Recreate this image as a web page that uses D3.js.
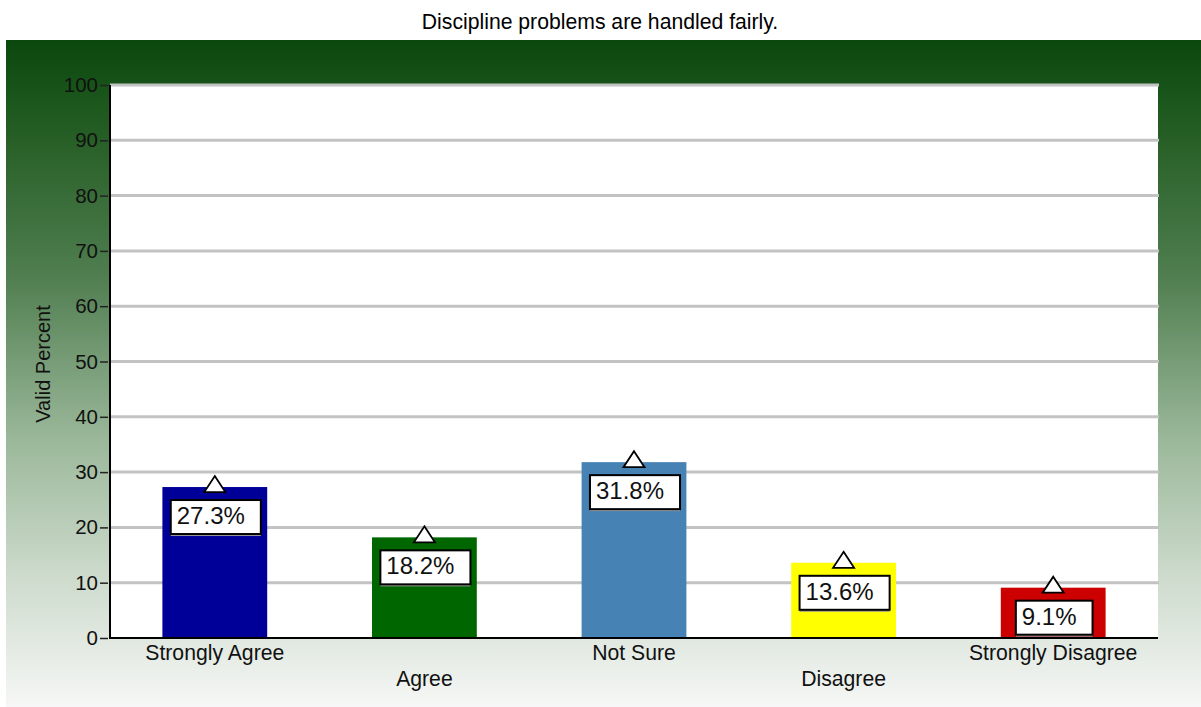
<!DOCTYPE html>
<html><head><meta charset="utf-8">
<script src="https://cdn.jsdelivr.net/npm/d3@7"></script>
<style>body{margin:0;background:#fff}svg{display:block;font-family:"Liberation Sans",Arial,sans-serif}</style>
</head><body>
<script>
const title = "Discipline problems are handled fairly.";
const categories = ["Strongly Agree","Agree","Not Sure","Disagree","Strongly Disagree"];
const values = [27.3, 18.2, 31.8, 13.6, 9.1];
const colors = ["#000099","#006600","#4682b4","#ffff00","#cc0000"];
const yTicks = [0,10,20,30,40,50,60,70,80,90,100];
const yLabel = "Valid Percent";

const W = 1201, H = 707;
const svg = d3.select("body").append("svg").attr("width", W).attr("height", H);
const defs = svg.append("defs");
const grad = defs.append("linearGradient").attr("id","bg").attr("x1",0).attr("y1",0).attr("x2",0).attr("y2",1);
[[0,"#0b480e"],[0.1,"#1d581d"],[0.35,"#4f7d4f"],[0.6,"#9bb89a"],[0.8,"#ccdacb"],[1,"#f6f7f6"]].forEach(s=>grad.append("stop").attr("offset",s[0]).attr("stop-color",s[1]));

svg.append("text").attr("x",600).attr("y",29).attr("text-anchor","middle").attr("font-size",21.2).attr("fill","#000").text(title);
svg.append("rect").attr("x",6).attr("y",40).attr("width",W-6).attr("height",H-40).attr("fill","url(#bg)");

const m = {l:110, r:1158, t:85, b:638};
const x = d3.scaleBand().domain(categories).range([m.l, m.r]).paddingInner(0.5).paddingOuter(0.25);
const y = d3.scaleLinear().domain([0,100]).range([m.b, m.t]);

svg.append("rect").attr("x",m.l).attr("y",m.t).attr("width",m.r-m.l).attr("height",m.b-m.t).attr("fill","#fff");

// gridlines
svg.append("g").selectAll("line").data(yTicks.filter(d=>d>0)).join("line")
  .attr("x1",m.l).attr("x2",m.r+1).attr("y1",d=>y(d)).attr("y2",d=>y(d))
  .attr("stroke","#c3c3c3").attr("stroke-width",3);

// bars
svg.append("g").selectAll("rect").data(values).join("rect")
  .attr("x",(d,i)=>x(categories[i])).attr("width",x.bandwidth())
  .attr("y",d=>y(d)).attr("height",d=>y(0)-y(d)).attr("fill",(d,i)=>colors[i]);

// axes
const yAxis = d3.axisLeft(y).tickValues(yTicks).tickSize(0).tickPadding(12);
const gy = svg.append("g").attr("transform",`translate(${m.l},0)`).call(yAxis);
gy.attr("font-size",null).attr("font-family",null);
gy.select(".domain").remove();
gy.selectAll(".tick").append("line").attr("x1",-10).attr("x2",-2).attr("stroke","#222").attr("stroke-width",1.5);
gy.selectAll("text").style("font-size","20.5px").attr("fill","#111").style("font-family","'Liberation Sans', Arial, sans-serif");
svg.append("line").attr("x1",m.l).attr("x2",m.l).attr("y1",m.t).attr("y2",m.b+1).attr("stroke","#000").attr("stroke-width",2);
svg.append("line").attr("x1",m.l).attr("x2",m.r).attr("y1",m.b).attr("y2",m.b).attr("stroke","#000").attr("stroke-width",2);

// category labels, alternating rows
svg.append("g").selectAll("text").data(categories).join("text")
  .attr("x",d=>x(d)+x.bandwidth()/2).attr("y",(d,i)=>i%2===0?660:686)
  .attr("text-anchor","middle").attr("font-size",21.2).attr("fill","#111").text(d=>d);

svg.append("text").attr("transform",`translate(50,364) rotate(-90)`).attr("text-anchor","middle")
  .attr("font-size",20).attr("fill","#111").text(yLabel);

// markers and labels
const g = svg.append("g").selectAll("g").data(values).join("g")
  .attr("transform",(d,i)=>`translate(${x(categories[i])+x.bandwidth()/2},${y(d)})`);
g.each(function(d){
  const sel = d3.select(this);
  const t = sel.append("text").attr("font-size",24).attr("fill","#111").attr("y",37).text(d.toFixed(1)+"%");
  const bb = t.node().getBBox();
  const bw = bb.width + 22, bh = 34;
  const bx = -bw/2 + 1;
  sel.insert("rect","text").attr("x",bx).attr("y",15).attr("width",bw).attr("height",bh).attr("fill","#999");
  sel.insert("rect","text").attr("x",bx).attr("y",13).attr("width",bw).attr("height",bh).attr("fill","#fff").attr("stroke","#000").attr("stroke-width",2);
  t.attr("x",bx+6);
});
g.append("path").attr("d","M0,-11 L10.5,5 L-10.5,5 Z").attr("fill","#fff").attr("stroke","#000").attr("stroke-width",1.8);
</script>
</body></html>
